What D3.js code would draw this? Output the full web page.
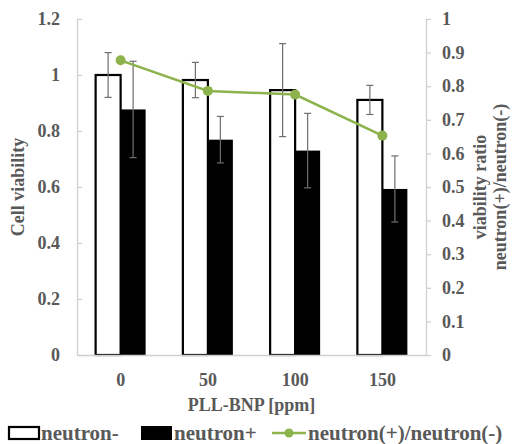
<!DOCTYPE html>
<html>
<head>
<meta charset="utf-8">
<script src="https://cdn.jsdelivr.net/npm/d3@7"></script>
<style>
  body { margin: 0; background: #fff; }
  svg text { font-family: "Times New Roman", Tinos, "Liberation Serif", "DejaVu Serif", "Noto Serif", serif; font-weight: bold; fill: #595959; }
</style>
</head>
<body>
<svg id="chart" width="514" height="444"></svg>
<script>
// data
var doses = ["0", "50", "100", "150"];
var viabilityMinus = [1.0, 0.982, 0.946, 0.911];
var errMinus = [0.08, 0.063, 0.166, 0.052];
var viabilityPlus = [0.877, 0.769, 0.730, 0.593];
var errPlus = [0.172, 0.083, 0.133, 0.118];
var ratio = [0.877, 0.786, 0.775, 0.653];
var leftTicks = [0, 0.2, 0.4, 0.6, 0.8, 1, 1.2];
var rightTicks = [0, 0.1, 0.2, 0.3, 0.4, 0.5, 0.6, 0.7, 0.8, 0.9, 1];

var svg = d3.select("#chart");
var plotL = 77, plotR = 426, plotT = 19, plotB = 355;
var green = "#8db34c", axisGray = "#d0d0d0", errGray = "#6e6e6e";
var fs = "18px", legFs = "21px";

var x = d3.scaleBand().domain(doses).range([plotL, plotR]);
var yL = d3.scaleLinear().domain([0, 1.2]).range([plotB, plotT]);
var yR = d3.scaleLinear().domain([0, 1]).range([plotB, plotT]);
var barW = 25;
function cx(d) { return x(d) + x.bandwidth() / 2; }

// bars
var groups = svg.append("g").selectAll("g").data(doses).enter().append("g");
groups.append("rect")
  .attr("x", function(d) { return cx(d) - barW; })
  .attr("y", function(d, i) { return yL(viabilityMinus[i]); })
  .attr("width", barW)
  .attr("height", function(d, i) { return plotB - yL(viabilityMinus[i]); })
  .attr("fill", "#fff").attr("stroke", "#000").attr("stroke-width", 2.2);
groups.append("rect")
  .attr("x", function(d) { return cx(d); })
  .attr("y", function(d, i) { return yL(viabilityPlus[i]); })
  .attr("width", barW)
  .attr("height", function(d, i) { return plotB - yL(viabilityPlus[i]); })
  .attr("fill", "#000");

// error bars
function errorBar(vals, errs, offset) {
  var g = svg.append("g").attr("stroke", errGray).attr("stroke-width", 1.2);
  doses.forEach(function(d, i) {
    var px = cx(d) + offset;
    var y1 = yL(vals[i] + errs[i]), y2 = yL(vals[i] - errs[i]);
    g.append("line").attr("x1", px).attr("x2", px).attr("y1", y1).attr("y2", y2);
    g.append("line").attr("x1", px - 3.5).attr("x2", px + 3.5).attr("y1", y1).attr("y2", y1);
    g.append("line").attr("x1", px - 3.5).attr("x2", px + 3.5).attr("y1", y2).attr("y2", y2);
  });
}
errorBar(viabilityMinus, errMinus, -barW / 2);
errorBar(viabilityPlus, errPlus, barW / 2);

// axes
var leftAxis = svg.append("g").attr("transform", "translate(" + plotL + ",0)")
  .call(d3.axisLeft(yL).tickValues(leftTicks).tickFormat(d3.format("")).tickSizeInner(-5).tickSizeOuter(0).tickPadding(17));
var rightAxis = svg.append("g").attr("transform", "translate(" + plotR + ",0)")
  .call(d3.axisRight(yR).tickValues(rightTicks).tickFormat(d3.format("")).tickSizeInner(5).tickSizeOuter(0).tickPadding(11));
var bottomAxis = svg.append("g").attr("transform", "translate(0," + plotB + ")")
  .call(d3.axisBottom(x).tickSize(0).tickPadding(18));
[leftAxis, rightAxis, bottomAxis].forEach(function(a) {
  a.attr("font-family", null).attr("font-size", null);
  a.selectAll("path, line").attr("stroke", axisGray).attr("stroke-width", 1.3);
  a.selectAll("text").style("font-size", fs).attr("fill", null);
});

// ratio line
svg.append("path").datum(ratio)
  .attr("fill", "none").attr("stroke", green).attr("stroke-width", 2.5)
  .attr("d", d3.line().x(function(d, i) { return cx(doses[i]); }).y(function(d) { return yR(d); }));
svg.append("g").selectAll("circle").data(ratio).enter().append("circle")
  .attr("cx", function(d, i) { return cx(doses[i]); })
  .attr("cy", function(d) { return yR(d); })
  .attr("r", 5).attr("fill", green);

// axis titles
var midY = (plotT + plotB) / 2;
svg.append("text").attr("transform", "translate(24," + midY + ") rotate(-90)")
  .attr("text-anchor", "middle").style("font-size", fs).text("Cell viability");
svg.append("text").attr("transform", "translate(486," + midY + ") rotate(-90)")
  .attr("text-anchor", "middle").style("font-size", fs).text("viability ratio");
svg.append("text").attr("transform", "translate(506," + midY + ") rotate(-90)")
  .attr("text-anchor", "middle").style("font-size", fs).text("neutron(+)/neutron(-)");
svg.append("text").attr("x", (plotL + plotR) / 2).attr("y", 411)
  .attr("text-anchor", "middle").style("font-size", fs).text("PLL-BNP [ppm]");

// legend
var leg = svg.append("g");
leg.append("rect").attr("x", 9).attr("y", 427).attr("width", 30).attr("height", 12)
  .attr("fill", "#fff").attr("stroke", "#000").attr("stroke-width", 2.2);
leg.append("text").attr("x", 41).attr("y", 440).style("font-size", legFs).text("neutron-");
leg.append("rect").attr("x", 141).attr("y", 426).attr("width", 31).attr("height", 14).attr("fill", "#000");
leg.append("text").attr("x", 174).attr("y", 440).style("font-size", legFs).text("neutron+");
leg.append("line").attr("x1", 272).attr("x2", 306).attr("y1", 433).attr("y2", 433)
  .attr("stroke", green).attr("stroke-width", 2.5);
leg.append("circle").attr("cx", 289).attr("cy", 433).attr("r", 4.5).attr("fill", green);
leg.append("text").attr("x", 308).attr("y", 440).style("font-size", legFs).text("neutron(+)/neutron(-)");
</script>
</body>
</html>
